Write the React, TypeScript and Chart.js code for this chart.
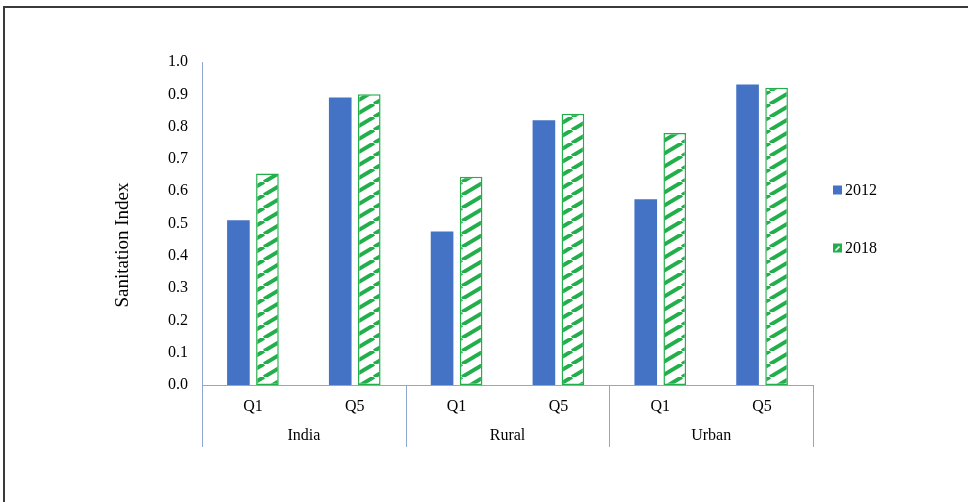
import React, { useEffect, useRef } from 'react';
import { Chart, registerables } from 'chart.js';

Chart.register(...registerables);

// ---- data ----
const quintiles = ['Q1', 'Q5', 'Q1', 'Q5', 'Q1', 'Q5'];
const groups = ['India', 'Rural', 'Urban'];
const seriesNames = ['2012', '2018'];
const values2012 = [0.51, 0.89, 0.475, 0.82, 0.575, 0.93];
const values2018 = [0.655, 0.9, 0.645, 0.84, 0.78, 0.92];
const yMin = 0;
const yMax = 1;
const yStep = 0.1;
const yTitle = 'Sanitation Index';

// ---- style ----
const BLUE = '#4472C4';
const GREEN = '#22AF4B';
const AXIS = '#8FA7CC';
const FONT = '"Liberation Serif", "Times New Roman", serif';

function makeHatch(): CanvasPattern | string {
  const W = 22;
  const H = 13;
  const c = document.createElement('canvas');
  c.width = W;
  c.height = H;
  const g = c.getContext('2d');
  if (!g) return GREEN;
  g.fillStyle = '#ffffff';
  g.fillRect(0, 0, W, H);
  g.strokeStyle = GREEN;
  g.lineWidth = 4;
  for (const dx of [-W, 0, W]) {
    g.beginPath();
    g.moveTo(dx, H);
    g.lineTo(dx + W, 0);
    g.stroke();
  }
  return g.createPattern(c, 'repeat') || GREEN;
}

const extrasPlugin = {
  id: 'extras',
  afterDraw(chart: any) {
    const { ctx, chartArea } = chart;
    const x2 = chart.scales.x2;
    ctx.save();
    // group separators
    ctx.strokeStyle = AXIS;
    ctx.lineWidth = 1;
    const n = groups.length;
    for (let k = 0; k <= n; k++) {
      const x = Math.round(chartArea.left + (k * (chartArea.right - chartArea.left)) / n) + 0.5;
      ctx.beginPath();
      ctx.moveTo(x, chartArea.bottom);
      ctx.lineTo(x, x2.bottom);
      ctx.stroke();
    }
    // y axis title
    ctx.fillStyle = '#000';
    ctx.font = `19px ${FONT}`;
    ctx.textAlign = 'center';
    ctx.textBaseline = 'middle';
    ctx.translate(123, 245);
    ctx.rotate(-Math.PI / 2);
    ctx.fillText(yTitle, 0, 0);
    ctx.restore();

    // legend
    ctx.save();
    ctx.font = `16px ${FONT}`;
    ctx.textAlign = 'left';
    ctx.textBaseline = 'middle';
    const lx = 833;
    const ys = [190, 248];
    // 2012
    ctx.fillStyle = BLUE;
    ctx.fillRect(lx, ys[0] - 4.5, 9, 9);
    ctx.fillStyle = '#000';
    ctx.fillText(seriesNames[0], lx + 12, ys[0] + 1);
    // 2018
    ctx.fillStyle = GREEN;
    ctx.fillRect(lx, ys[1] - 4.5, 9, 9);
    ctx.strokeStyle = '#ffffff';
    ctx.lineWidth = 1.6;
    ctx.beginPath();
    ctx.moveTo(lx + 2.5, ys[1] + 2.5);
    ctx.lineTo(lx + 6.5, ys[1] - 1.5);
    ctx.stroke();
    ctx.fillStyle = '#000';
    ctx.fillText(seriesNames[1], lx + 12, ys[1] + 1);
    ctx.restore();
  },
};

export default function App() {
  const ref = useRef<HTMLCanvasElement | null>(null);

  useEffect(() => {
    document.body.style.margin = '0';
    const canvas = ref.current;
    if (!canvas) return;
    const hatch = makeHatch();
    const chart = new Chart(canvas, {
      type: 'bar',
      data: {
        labels: quintiles,
        datasets: [
          {
            label: seriesNames[0],
            data: values2012,
            backgroundColor: BLUE,
            borderWidth: 0,
            xAxisID: 'x',
            yAxisID: 'y',
            categoryPercentage: 0.57,
            barPercentage: 0.78,
          },
          {
            label: seriesNames[1],
            data: values2018,
            backgroundColor: hatch as any,
            borderColor: GREEN,
            borderWidth: 1.5,
            borderSkipped: false,
            xAxisID: 'x',
            yAxisID: 'y',
            categoryPercentage: 0.57,
            barPercentage: 0.78,
          },
        ],
      },
      options: {
        responsive: false,
        animation: false,
        devicePixelRatio: 1,
        layout: { padding: { left: 110, right: 155, top: 62, bottom: 55 } },
        plugins: {
          legend: { display: false },
          tooltip: { enabled: false },
        },
        scales: {
          x: {
            type: 'category',
            position: 'bottom',
            weight: 0,
            offset: true,
            grid: { display: false, drawTicks: false },
            border: { display: true, color: AXIS, width: 1 },
            ticks: { color: '#000', font: { family: FONT, size: 16 }, padding: 12, maxRotation: 0, autoSkip: false },
            afterFit: (s: any) => {
              s.height = 32;
            },
          },
          x2: {
            type: 'category',
            position: 'bottom',
            weight: 1,
            labels: groups,
            offset: true,
            grid: { display: false, drawTicks: false },
            border: { display: false },
            ticks: { color: '#000', font: { family: FONT, size: 16 }, padding: 9, maxRotation: 0, autoSkip: false },
            afterFit: (s: any) => {
              s.height = 30;
            },
          },
          y: {
            min: yMin,
            max: yMax,
            grid: { display: false, drawTicks: false },
            border: { display: true, color: AXIS, width: 1 },
            ticks: {
              stepSize: yStep,
              color: '#000',
              font: { family: FONT, size: 16 },
              padding: 14,
              callback: (v: any) => Number(v).toFixed(1),
            },
            afterFit: (s: any) => {
              s.width = 92;
            },
          },
        },
      },
      plugins: [extrasPlugin],
    });
    return () => chart.destroy();
  }, []);

  return (
    <div style={{ position: 'relative', width: 968, height: 502, overflow: 'hidden', background: '#fff' }}>
      <div
        style={{
          position: 'absolute',
          left: 3,
          top: 6,
          right: -10,
          bottom: -10,
          borderTop: '2px solid #3a3a3a',
          borderLeft: '2px solid #3a3a3a',
        }}
      />
      <canvas ref={ref} width={968} height={502} style={{ position: 'absolute', left: 0, top: 0 }} />
    </div>
  );
}
